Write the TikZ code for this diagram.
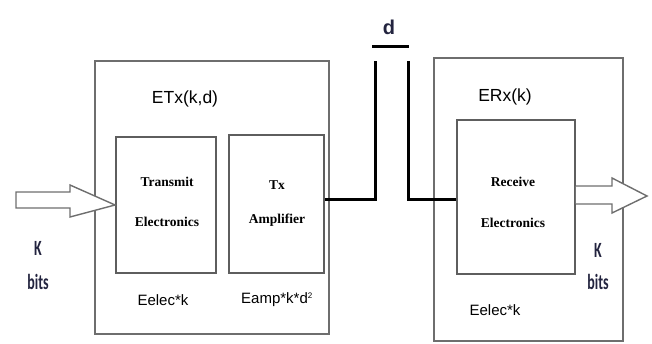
\documentclass[tikz,border=0pt]{standalone}
\usepackage{fontspec}
\setmainfont{Liberation Sans}
\newfontfamily\boxfont{Liberation Serif}
\newfontfamily\bitsfont{Carlito}
\definecolor{frame}{HTML}{6E6E6E}
\definecolor{inner}{HTML}{5E5E5E}
\definecolor{bitsink}{HTML}{23243F}
\newcommand{\tallbits}[1]{\scalebox{1}[1.55]{#1}}
\begin{document}
\begin{tikzpicture}[x=1pt,y=-1pt,
  outerbox/.style={draw=frame,line width=1.6pt,minimum width=#1,inner sep=0pt},
  blockbox/.style={draw=inner,line width=1.8pt,inner sep=0pt},
  wire/.style={line width=3pt,black},
  hollow/.style={draw=frame,line width=1.4pt,fill=white,line join=miter},
  label/.style={font=\fontsize{15}{17}\selectfont,inner sep=0pt},
  biglabel/.style={font=\fontsize{17.5}{19}\selectfont,inner sep=0pt},
  blocktext/.style={font=\boxfont\bfseries\fontsize{13.5}{15}\selectfont,inner sep=0pt},
  bitstext/.style={font=\bitsfont\bfseries\fontsize{14}{16}\selectfont,text=bitsink,inner sep=0pt}]
\useasboundingbox (0,0) rectangle (652,344);

% transmitter
\node[outerbox=234pt,minimum height=273pt] (tx) at (212,197.5) {};
\node[blockbox,minimum width=100pt,minimum height=136pt] (te) at (166,205) {};
\node[blockbox,minimum width=95pt,minimum height=138pt] (ta) at (276.5,204) {};
\node[biglabel] (etx) at (185,99) {ETx(k,d)};
\node[blocktext] (te1) at (167,182) {Transmit};
\node[blocktext] (te2) at (167,222) {Electronics};
\node[blocktext] (ta1) at (277,185) {Tx};
\node[blocktext] (ta2) at (277,220) {Amplifier};
\node[label] (eelec1) at (163,300) {Eelec*k};
\node[label] (eamp) at (277,300) {Eamp*k*d\textsuperscript{\fontsize{8}{8}\selectfont 2}};

% receiver
\node[outerbox=189pt,minimum height=283pt] (rx) at (528.5,199.5) {};
\node[blockbox,minimum width=118pt,minimum height=154pt] (re) at (516,197) {};
\node[biglabel] (erx) at (505,97) {ERx(k)};
\node[blocktext] (re1) at (513,182) {Receive};
\node[blocktext] (re2) at (513,223) {Electronics};
\node[label] (eelec2) at (495,310) {Eelec*k};

% channel of length d
\coordinate (gapL) at (375,61);
\coordinate (gapR) at (408,61);
\coordinate (barL) at (372,47);
\coordinate (barR) at (409,47);
\draw[wire] ([yshift=4pt]ta.east) -| (gapL);
\draw[wire] (gapR) |- ([yshift=-3pt]re.west);
\draw[wire] (barL) -- (barR);
\node[font=\bfseries\fontsize{20}{22}\selectfont,text=bitsink,inner sep=0pt] (dlab) at (389,27) {d};

% input and output bit streams
\draw[hollow] (16,192) -- (70,192) -- (70,185) -- (te.west) -- (70,217) -- (70,208) -- (16,208) -- cycle;
\draw[hollow] ([yshift=11pt]re.east) -- (612,186) -- (612,178) -- (647,196) -- (612,213) -- (612,204) -- ([yshift=-7pt]re.east);
\node[bitstext] (kin) at (38,248) {\tallbits{K}};
\node[bitstext] (bin) at (38,282) {\tallbits{bits}};
\node[bitstext] (kout) at (598,250) {\tallbits{K}};
\node[bitstext] (bout) at (598,282) {\tallbits{bits}};
\end{tikzpicture}
\end{document}
